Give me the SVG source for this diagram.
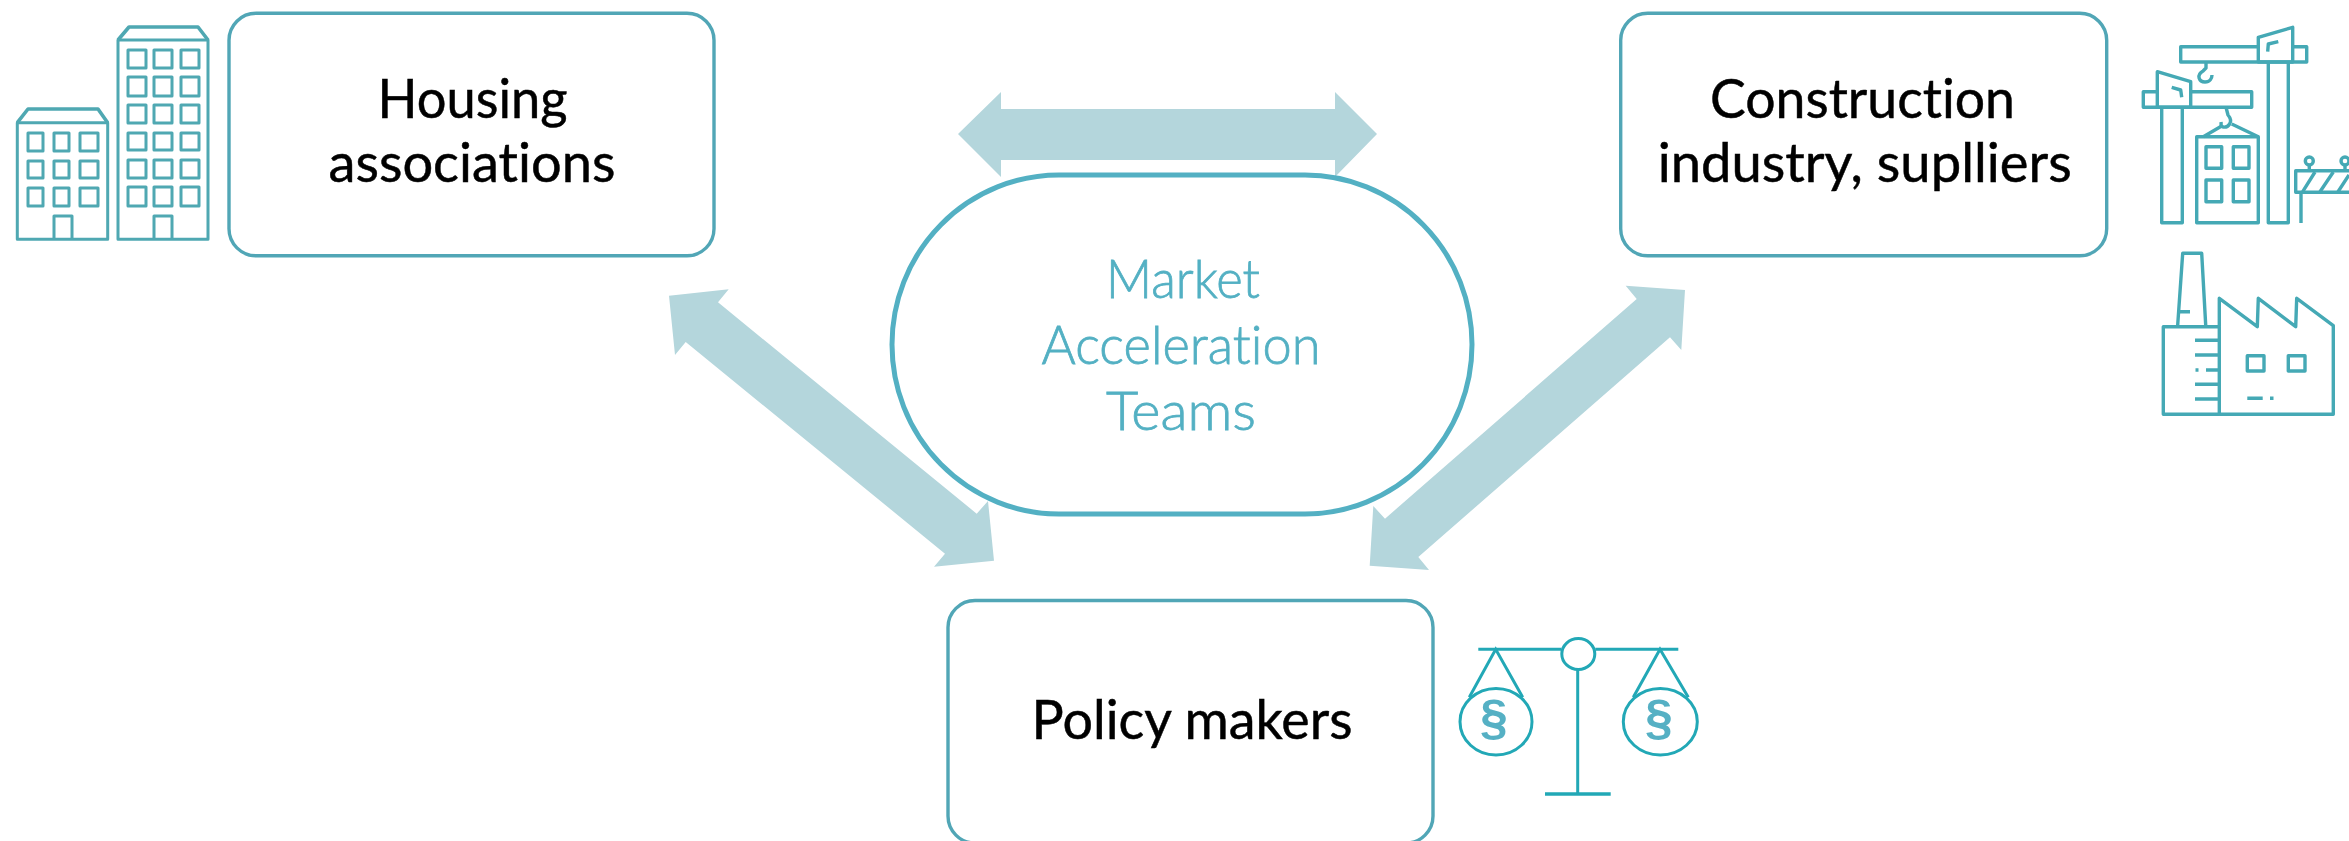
<svg xmlns="http://www.w3.org/2000/svg" width="2349" height="841" viewBox="0 0 2349 841">
<style>
.box{fill:#fff;stroke:#51a6b6;stroke-width:3.4}
.pill{fill:#fff;stroke:#53b0c3;stroke-width:5}
.arrow{fill:#b4d6dc}
.lbl{font-family:"Lato","Liberation Sans",sans-serif;font-size:55px;fill:#000;stroke:#000;stroke-width:.5;text-anchor:middle;font-variant-ligatures:none}
.mat{font-family:"Lato","Noto Sans",sans-serif;font-weight:300;font-size:53px;fill:#53b0c3;stroke:#53b0c3;stroke-width:.8;text-anchor:middle;font-variant-ligatures:none}
.ico{fill:none;stroke:#4fa8b2;stroke-width:3;stroke-linejoin:round}
.ico2{fill:none;stroke:#45a9b5;stroke-width:3.4;stroke-linejoin:round}
.scale{fill:none;stroke:#22a8b6;stroke-width:3}
.para{font-family:"Liberation Sans",sans-serif;font-weight:700;font-size:50px;fill:#55b0c4;text-anchor:middle}
</style>
<rect width="2349" height="841" fill="#fff"/>
<g id="connectors">
<polygon class="arrow" points="958,134 1001,92 1001,109 1335,109 1335,92 1377,134 1335,177 1335,160 1001,160 1001,177"/>
<polygon class="arrow" points="669,295.7 728.7,289.3 718,302.3 976.7,513.7 988,501 994,560.7 934,566.7 945,553.7 685.7,342 675,355"/>
<polygon class="arrow" points="1685,290 1681.3,350 1670,337.3 1418.3,557 1429,570 1369.7,565.7 1373.3,506 1385,518.7 1636.7,299 1625.7,285.7"/>
</g>
<g id="node-housing">
<rect class="box" x="229" y="13.3" width="485" height="242.5" rx="27"/>
<text class="lbl" x="472.5" y="118" textLength="190" lengthAdjust="spacingAndGlyphs">Housing</text>
<text class="lbl" x="472" y="182" textLength="287" lengthAdjust="spacingAndGlyphs">associations</text>
</g>
<g id="node-construction">
<rect class="box" x="1620.7" y="13.3" width="486" height="242.5" rx="27"/>
<text class="lbl" x="1862.5" y="118" textLength="305" lengthAdjust="spacingAndGlyphs">Construction</text>
<text class="lbl" x="1864.7" y="182" textLength="414" lengthAdjust="spacingAndGlyphs">industry, suplliers</text>
</g>
<g id="node-policy">
<rect class="box" x="948" y="600.5" width="485" height="242.5" rx="27"/>
<text class="lbl" x="1192" y="739" textLength="321" lengthAdjust="spacingAndGlyphs">Policy makers</text>
</g>
<g id="node-market">
<rect class="pill" x="892" y="175" width="580" height="339" rx="167" ry="169.5"/>
<text class="mat" x="1183" y="298" textLength="154" lengthAdjust="spacingAndGlyphs">Market</text>
<text class="mat" x="1181" y="364" textLength="279" lengthAdjust="spacingAndGlyphs">Acceleration</text>
<text class="mat" x="1181" y="430" textLength="150" lengthAdjust="spacingAndGlyphs">Teams</text>
</g>
<g id="icon-buildings" class="ico">
<path d="M17.3 122.7H107.7V239.3H17.3Z"/><path stroke-width="3.6" d="M17.3 122.7L28 109H98L107.7 122.7"/>
<path d="M28 133h15v18H28zM54 133h15v18H54zM80 133h18v18H80zM28 161h15v17H28zM54 161h15v17H54zM80 161h18v17H80zM28 188h15v18H28zM54 188h15v18H54zM80 188h18v18H80zM54 239V216H72V239"/>
<path d="M118 40H208V239.3H118Z"/><path stroke-width="3.6" d="M118 40L129 27H198L208 40"/>
<path d="M128 50h18v18h-18zM154 50h18v18h-18zM181 50h18v18h-18zM128 77h18v19h-18zM154 77h18v19h-18zM181 77h18v19h-18zM128 105h18v18h-18zM154 105h18v18h-18zM181 105h18v18h-18zM128 133h18v17h-18zM154 133h18v17h-18zM181 133h18v17h-18zM128 160h18v18h-18zM154 160h18v18h-18zM181 160h18v18h-18zM128 187h18v19h-18zM154 187h18v19h-18zM181 187h18v19h-18zM154 239V216H172V239"/>
</g>
<g id="icon-cranes" class="ico2">
<path d="M2258.3 46.7H2180.7V62H2306.7V46.7H2292.7"/>
<path d="M2258.3 37.3L2292.7 27.3V62H2258.3Z"/>
<path d="M2268.3 62V222.7H2288.3V62"/>
<path d="M2267.7 51.7L2268.3 44L2278.3 41.7"/>
<path d="M2206 62V68L2203 71C2196 75 2199 82 2205 82C2210 82 2212 78 2212 75"/>
<path d="M2157.3 91.7H2143.3V107.3H2251.7V91.7H2190.7"/>
<path d="M2157.3 71.7L2190.7 81.7V107.3H2157.3Z"/>
<path d="M2161.7 107.3V222.7H2182.3V107.3"/>
<path d="M2171.7 87.3L2180.7 90L2181.7 97.3"/>
<path d="M2226 107.3L2228 115C2234 122 2228 128 2223 127C2220 126 2221.5 125 2221 122"/>
<path d="M2203.3 136.7L2221.7 126M2258.3 136.7L2231.7 124"/>
<path d="M2196.7 136.7H2258.3V222.7H2196.7Z"/>
<path d="M2206 146.7h15.7v21.6h-15.7zM2233.3 146.7h15.7v21.6h-15.7zM2206 180h15.7v21.7h-15.7zM2233.3 180h15.7v21.7h-15.7z"/>
<path d="M2349 170.7H2295.7V192.3H2349M2301 192.3V223"/>
<path d="M2302.7 191.7L2315 172M2320 191.7L2333.3 172M2338 191.7L2349 175M2309.3 165V170.7M2345 165V170.7"/>
<circle cx="2309.3" cy="161" r="4"/><circle cx="2345" cy="161" r="4"/>
</g>
<g id="icon-factory" class="ico2">
<path d="M2163.3 326.7H2219.3V414.3H2163.3Z"/>
<path d="M2219.3 326.7V298.3L2257.3 326.7L2258.3 298.3L2295.7 326.7L2296.7 298.3L2333.3 325.7V414.3H2219.3"/>
<path d="M2177.7 325L2182.7 253.3H2201.7L2205.7 325"/>
<path d="M2178 311.7H2190M2195 340.3H2219.3M2195 355H2219.3M2195.5 370H2198.5M2206 370H2219.3M2195 384.3H2219.3M2195 399H2219.3M2247.3 398.3H2262.7M2270 398.3H2273.5"/>
<path d="M2247.3 355.7H2264V371H2247.3ZM2288.3 355.7H2305V371H2288.3Z"/>
</g>
<g id="icon-scales" class="scale">
<path d="M1478.3 649.3H1561.3M1595.3 649.3H1678.3"/>
<ellipse cx="1578.3" cy="654" rx="16.5" ry="15.5"/>
<path d="M1577.7 670V794"/><path stroke-width="3.6" d="M1545 794H1610.7"/>
<path d="M1469.3 697.3L1495.7 649.3L1522.7 697.3M1633.3 697.3L1660 649.3L1688.3 697.3"/>
<ellipse cx="1496" cy="721.7" rx="36" ry="33.3"/>
<ellipse cx="1660.3" cy="721.7" rx="37" ry="33.3"/>
<text class="para" x="1494" y="735" stroke="none">§</text>
<text class="para" x="1659" y="735" stroke="none">§</text>
</g>
</svg>
